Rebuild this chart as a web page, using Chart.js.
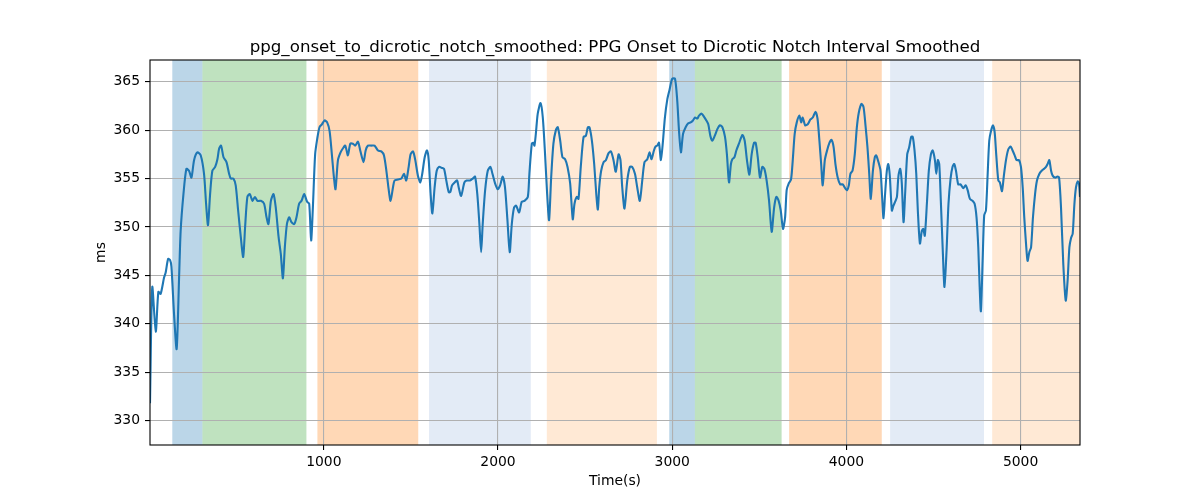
<!DOCTYPE html>
<html>
<head>
<meta charset="utf-8">
<script src="https://cdn.jsdelivr.net/npm/chart.js@4.4.0/dist/chart.umd.min.js"></script>
<style>
html,body{margin:0;padding:0;background:#fff;}
canvas{display:block;}
</style>
</head>
<body>
<canvas id="c" width="1200" height="500"></canvas>
<script>
const titleText = "ppg_onset_to_dicrotic_notch_smoothed: PPG Onset to Dicrotic Notch Interval Smoothed";
const xLabel = "Time(s)";
const yLabel = "ms";

const xTicks = [1000, 2000, 3000, 4000, 5000];
const yTicks = [330, 335, 340, 345, 350, 355, 360, 365];
const xRange = [2, 5341];
const yRange = [327.49, 367.24];

const spanStarts = [130, 303, 963, 1604, 2280, 2983, 3130, 3671, 4251, 4837];
const spanEnds   = [303, 900, 1542, 2188, 2912, 3130, 3628, 4203, 4790, 5341];
const spanKinds  = ["blue", "green", "orange", "lightblue", "lightorange", "blue", "green", "orange", "lightblue", "lightorange"];

const times = [
2,15,35,50,63,83,92,106,117,125,140,155,169,178,194,211,226,240,255,274,293,312,324,335,347,360,376,389,399,410,424,441,456,466,481,494,508,523,537,548,561,575,590,604,619,638,657,671,682,696,711,724,740,753,765,776,788,801,814,830,843,858,872,887,
904,916,927,937,950,962,975,989,1004,1019,1033,1046,1058,1067,1081,1096,1109,1123,1138,1152,1167,1180,1196,1209,1228,1240,1253,1272,1291,1311,1330,1345,1359,1372,1383,1397,1406,1426,1445,1460,1473,1487,1498,1512,1525,1540,1554,1565,1579,1592,1602,1613,1623,1636,1648,1661,1678,1690,1703,1717,1726,1736,1751,1765,1774,1788,
1807,1820,1839,1855,1868,1881,1893,1903,1912,1926,1941,1956,1968,1983,1998,2012,2027,2040,2054,2067,2079,2092,2104,2121,2136,2152,2171,2180,2194,2203,2209,2217,2228,2244,2257,2270,2282,2293,2305,2318,2332,2343,2357,2370,2385,2399,2414,2429,2439,2452,2462,2475,2491,2504,2516,2525,2539,2552,2564,2573,2581,2592,2606,2619,2634,2648,2663,2676,2692,
2703,2713,2726,2742,2757,2770,2786,2799,2814,2828,2841,2857,2870,2881,2895,2904,2914,2924,2935,2947,2958,2972,2985,3000,3016,3029,3039,3050,3062,3077,3092,3106,3119,3131,3144,3154,3169,3182,3196,3207,3219,3230,3244,3259,3274,3288,3303,3314,3326,3337,3345,3357,3368,3383,3403,3416,3429,3443,3456,3470,3479,3491,3504,3517,3529,3542,3556,3571,3585,3598,
3611,3623,3636,3648,3657,3669,3682,3692,3703,3715,3730,3740,3749,3763,3778,3793,3807,3822,3834,3845,3855,3864,3876,3889,3903,3914,3926,3937,3950,3964,3979,3993,4004,4014,4023,4035,4048,4060,4071,4086,4098,4109,4121,4131,4140,4152,4163,4171,4184,4196,4205,4213,4222,4232,4240,4249,4261,4270,4282,4290,4299,4309,4318,4328,4337,4349,4360,4372,4381,4391,4401,4410,4422,4433,4441,4450,4462,4473,4485,4495,
4508,4516,4525,4533,4542,4554,4563,4575,4586,4598,4609,4619,4629,4642,4655,4671,4684,4696,4709,4724,4736,4747,4757,4765,4772,4782,4791,4801,4811,4820,4830,4841,4851,4860,4872,4881,4893,4904,4916,4929,4943,4954,4966,4977,4991,5002,5012,5021,5031,5040,5050,5060,5071,5083,5094,5108,5121,5134,5146,5155,5165,5175,5184,5198,5211,5221,5232,5245,5259,5270,5280,5290,5299,5309,5318,5328,5335,5341
];

const values = [
331.8,343.8,339.2,343.3,343.1,344.8,345.3,346.7,346.6,345.9,341.0,337.4,344.8,349.6,353.4,356.0,355.8,355.1,356.9,357.7,357.4,355.5,352.4,350.2,353.4,355.8,356.2,357.0,358.1,358.4,357.2,356.7,355.5,355.0,355.0,354.3,351.7,349.0,346.9,350.0,353.1,353.4,352.7,353.1,352.7,352.7,352.4,351.0,350.3,352.7,353.4,352.0,349.0,347.2,344.7,347.9,350.3,351.0,350.5,350.3,351.0,352.4,352.7,353.4,
352.6,352.4,348.6,352.0,357.5,359.1,360.3,360.6,361.0,360.8,359.9,357.5,355.1,353.9,356.9,357.7,358.1,358.4,357.4,358.6,358.6,358.4,358.8,357.9,356.7,357.9,358.4,358.4,358.4,357.9,357.8,357.4,355.8,353.9,352.7,354.1,354.8,354.9,355.0,355.5,354.8,356.2,357.5,357.8,356.9,355.3,354.6,355.5,357.2,357.9,356.9,353.4,351.4,354.1,355.8,356.2,356.1,356.0,354.8,353.6,353.6,354.3,354.6,354.8,354.1,353.2,
354.6,354.8,354.8,355.0,355.2,353.4,350.3,347.4,350.3,353.8,355.8,356.2,355.5,354.5,353.9,354.3,355.2,354.1,350.7,347.4,350.3,352.0,352.2,351.5,352.6,352.7,353.1,355.5,358.6,358.7,358.4,359.6,361.7,362.8,361.3,357.5,353.4,350.7,355.1,358.6,360.0,360.3,358.9,357.2,357.0,356.2,354.5,350.8,352.4,353.1,352.9,356.2,359.3,359.4,360.3,360.3,358.9,356.5,353.4,351.8,354.1,355.8,356.7,356.9,357.6,357.8,356.9,355.7,357.5,
356.9,354.1,351.9,354.8,356.2,356.2,355.5,354.1,352.7,354.8,356.7,357.0,357.7,357.0,357.9,358.3,358.4,358.7,356.9,358.9,361.3,363.2,364.2,365.3,365.3,363.0,359.9,357.7,359.6,360.3,360.7,360.8,361.0,361.3,361.2,361.5,361.7,361.4,361.0,360.6,359.4,358.9,359.4,360.1,360.5,360.3,359.3,357.5,354.6,356.5,357.0,357.2,357.9,358.6,359.5,358.9,356.9,355.4,357.5,358.7,358.7,357.2,355.1,356.2,356.0,354.8,352.7,349.5,352.0,353.1,
352.7,351.7,349.8,351.0,353.8,354.5,354.9,356.9,359.6,360.8,361.5,360.8,361.3,360.5,360.6,361.1,361.3,361.9,361.2,358.9,356.5,354.3,356.9,357.9,358.7,359.0,358.3,356.5,355.1,354.4,354.4,354.0,353.8,354.3,355.5,355.8,357.5,360.3,361.8,362.7,362.4,360.6,358.2,355.5,352.9,355.8,357.2,357.4,356.7,355.8,353.1,350.9,353.4,355.8,356.5,355.3,351.7,352.2,352.7,353.1,355.3,356.0,354.5,350.5,353.4,357.5,358.2,359.3,359.3,357.9,355.5,351.7,348.3,349.6,349.8,349.1,352.4,355.8,357.5,357.9,
356.9,355.5,356.9,356.5,352.7,347.2,343.8,347.6,352.4,355.0,356.2,356.5,355.8,354.4,354.4,354.0,354.3,353.8,352.9,352.7,352.4,351.0,347.9,343.8,341.3,346.5,351.2,351.7,355.5,358.9,359.9,360.5,359.8,357.5,354.8,354.6,353.7,355.3,356.9,358.0,358.3,357.9,357.4,356.9,356.9,356.2,354.1,351.0,348.3,346.5,347.4,347.9,351.0,353.4,354.8,355.5,355.8,356.0,356.2,356.5,356.9,355.8,355.3,355.1,355.2,355.1,352.0,346.2,342.4,344.5,347.9,348.9,349.3,352.4,354.1,354.7,354.5,353.1
];

const spanColors = {
  blue: "rgba(31,119,180,0.3)",
  green: "rgba(44,160,44,0.3)",
  orange: "rgba(255,127,14,0.3)",
  lightblue: "#e3ebf6",
  lightorange: "#ffe9d5"
};

const points = times.map((t, i) => ({x: t, y: values[i]}));
const FONT = "'DejaVu Sans', sans-serif";
Chart.defaults.font.family = FONT;
Chart.defaults.font.size = 13.9;
Chart.defaults.color = "#000";

const decor = {
  id: "decor",
  beforeDraw(chart) {
    const ctx = chart.ctx, a = chart.chartArea, xs = chart.scales.x;
    ctx.save();
    for (let i = 0; i < spanStarts.length; i++) {
      const x0 = Math.max(a.left, xs.getPixelForValue(spanStarts[i]));
      const x1 = Math.min(a.right, xs.getPixelForValue(spanEnds[i]));
      ctx.fillStyle = spanColors[spanKinds[i]];
      ctx.fillRect(x0, a.top, x1 - x0, a.bottom - a.top);
    }
    ctx.restore();
  },
  afterDatasetsDraw(chart) {
    const ctx = chart.ctx, a = chart.chartArea;
    ctx.save();
    ctx.strokeStyle = "#000";
    ctx.lineWidth = 1.1;
    ctx.strokeRect(a.left, a.top, a.right - a.left, a.bottom - a.top);
    ctx.restore();
  },
  afterDraw(chart) {
    const ctx = chart.ctx, a = chart.chartArea;
    ctx.save();
    ctx.fillStyle = "#000";
    ctx.textAlign = "center";
    ctx.font = "16.67px " + FONT;
    ctx.textBaseline = "alphabetic";
    ctx.fillText(titleText, (a.left + a.right) / 2, a.top - 7.6);
    ctx.font = "13.9px " + FONT;
    ctx.textBaseline = "middle";
    ctx.fillText(xLabel, (a.left + a.right) / 2, 481);
    ctx.translate(101, (a.top + a.bottom) / 2);
    ctx.rotate(-Math.PI / 2);
    ctx.fillText(yLabel, 0, 0);
    ctx.restore();
  }
};

new Chart(document.getElementById("c"), {
  type: "line",
  data: {
    datasets: [{
      data: points,
      borderColor: "#1f77b4",
      borderWidth: 2.1,
      pointRadius: 0,
      tension: 0.25,
      fill: false
    }]
  },
  options: {
    responsive: false,
    animation: false,
    devicePixelRatio: 1,
    layout: {padding: {top: 60, right: 120, bottom: 0, left: 0}},
    plugins: {legend: {display: false}, title: {display: false}, tooltip: {enabled: false}},
    scales: {
      x: {
        type: "linear",
        min: xRange[0],
        max: xRange[1],
        afterBuildTicks: s => { s.ticks = xTicks.map(v => ({value: v})); },
        afterFit: s => { s.height = 55; },
        grid: {color: "#b0b0b0", lineWidth: 1.1, tickColor: "#000", tickLength: 5, drawTicks: true},
        border: {display: false},
        ticks: {padding: 4, maxRotation: 0, autoSkip: false, color: "#000", callback: v => String(v)}
      },
      y: {
        type: "linear",
        min: yRange[0],
        max: yRange[1],
        afterBuildTicks: s => { s.ticks = yTicks.map(v => ({value: v})); },
        afterFit: s => { s.width = 150; },
        grid: {color: "#b0b0b0", lineWidth: 1.1, tickColor: "#000", tickLength: 5, drawTicks: true},
        border: {display: false},
        ticks: {padding: 5, autoSkip: false, color: "#000", callback: v => String(v)}
      }
    }
  },
  plugins: [decor]
});
</script>
</body>
</html>
